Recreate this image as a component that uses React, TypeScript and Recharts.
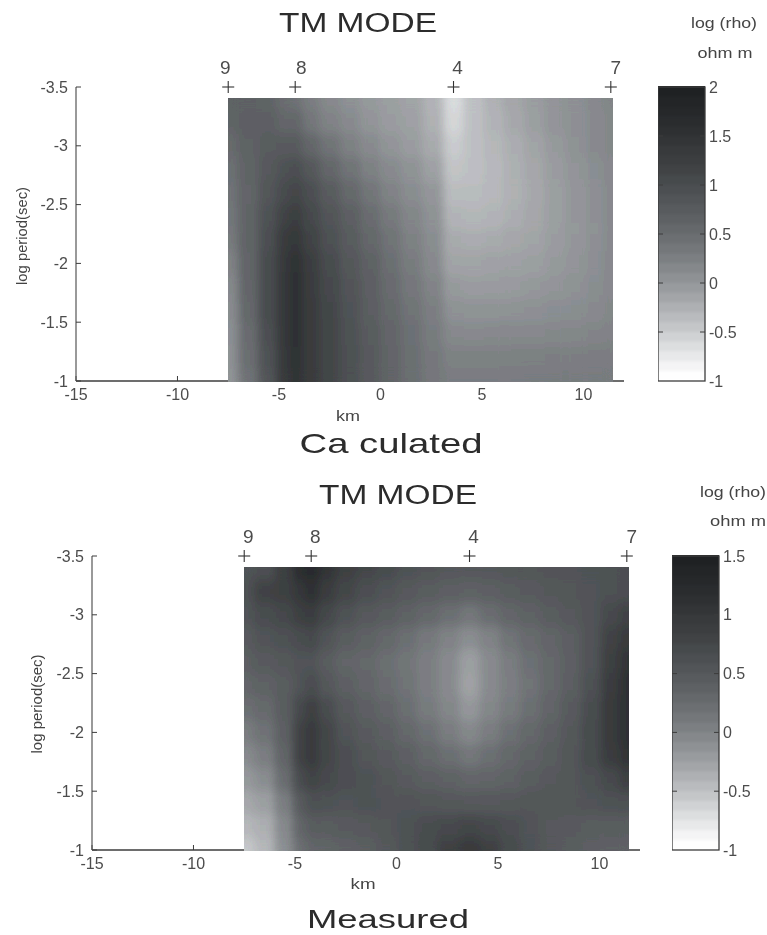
import { ComposedChart, Scatter, XAxis, YAxis } from "recharts";

const kmTicks = [-15, -10, -5, 0, 5, 10];
const periodTicks = [-3.5, -3, -2.5, -2, -1.5, -1];
const calcBarTicks = [2, 1.5, 1, 0.5, 0, -0.5, -1];
const measBarTicks = [1.5, 1, 0.5, 0, -0.5, -1];

const stationKm = [-7.5, -4.2, 3.6, 11.35];
const stationNames = ["9", "8", "4", "7"];

const gridKm = [-7.5, -6.5, -5.5, -4.7, -4.2, -3.5, -2.5, -1.5, -0.5, 0.5, 1.5, 2.6, 3.6, 4.6, 5.6, 6.6, 7.6, 8.6, 9.6, 10.6, 11.4];
const gridPeriod = [-3.4, -3.2, -3, -2.8, -2.6, -2.4, -2.2, -2, -1.8, -1.6, -1.4, -1.2, -1];

// log rho
const calculated = [
  [0.62, 0.62, 0.6, 0.45, 0.4, 0.25, 0.12, 0.03, -0.05, -0.1, -0.15, -0.3, -0.65, -0.42, -0.28, -0.17, -0.08, 0, 0.05, 0.12, 0.17],
  [0.6, 0.65, 0.65, 0.55, 0.55, 0.35, 0.2, 0.1, 0, -0.08, -0.12, -0.28, -0.6, -0.42, -0.3, -0.2, -0.1, 0, 0.05, 0.1, 0.15],
  [0.5, 0.62, 0.72, 0.75, 0.75, 0.55, 0.38, 0.22, 0.1, 0, -0.08, -0.22, -0.52, -0.42, -0.33, -0.25, -0.15, -0.05, 0.03, 0.1, 0.15],
  [0.42, 0.6, 0.78, 0.9, 0.95, 0.8, 0.55, 0.38, 0.22, 0.1, 0.02, -0.12, -0.45, -0.42, -0.35, -0.27, -0.18, -0.08, 0, 0.07, 0.13],
  [0.38, 0.58, 0.82, 1, 1.1, 0.95, 0.72, 0.52, 0.36, 0.2, 0.08, -0.02, -0.38, -0.38, -0.34, -0.28, -0.2, -0.1, -0.02, 0.05, 0.12],
  [0.35, 0.6, 0.9, 1.15, 1.25, 1.05, 0.85, 0.65, 0.46, 0.3, 0.16, 0.04, -0.3, -0.32, -0.3, -0.25, -0.18, -0.1, -0.02, 0.05, 0.12],
  [0.3, 0.6, 0.95, 1.3, 1.4, 1.15, 0.92, 0.72, 0.54, 0.38, 0.22, 0.08, -0.22, -0.24, -0.22, -0.18, -0.15, -0.08, -0.02, 0.05, 0.12],
  [0.2, 0.58, 1, 1.35, 1.5, 1.25, 1, 0.8, 0.62, 0.44, 0.28, 0.12, -0.15, -0.15, -0.13, -0.12, -0.1, -0.05, 0, 0.06, 0.13],
  [0.12, 0.56, 1, 1.38, 1.52, 1.28, 1.05, 0.85, 0.65, 0.48, 0.33, 0.18, -0.05, -0.08, -0.07, -0.06, -0.03, 0, 0.03, 0.08, 0.13],
  [0.08, 0.53, 1, 1.38, 1.52, 1.3, 1.08, 0.88, 0.68, 0.52, 0.38, 0.24, 0.03, 0.02, 0.02, 0.03, 0.05, 0.07, 0.08, 0.1, 0.15],
  [0.05, 0.48, 0.95, 1.38, 1.52, 1.3, 1.1, 0.9, 0.72, 0.56, 0.42, 0.28, 0.13, 0.12, 0.13, 0.13, 0.13, 0.14, 0.15, 0.17, 0.2],
  [0.03, 0.45, 0.9, 1.35, 1.5, 1.3, 1.1, 0.92, 0.74, 0.58, 0.44, 0.32, 0.22, 0.22, 0.22, 0.23, 0.23, 0.24, 0.24, 0.25, 0.25],
  [0, 0.4, 0.85, 1.32, 1.48, 1.3, 1.1, 0.92, 0.74, 0.58, 0.44, 0.33, 0.27, 0.27, 0.27, 0.27, 0.28, 0.28, 0.28, 0.28, 0.28],
];

// log rho
const measured = [
  [0.55, 0.6, 0.85, 1.15, 1.25, 1.05, 0.85, 0.75, 0.68, 0.6, 0.55, 0.5, 0.5, 0.5, 0.52, 0.52, 0.55, 0.55, 0.58, 0.6, 0.62],
  [0.6, 0.8, 0.85, 1, 1.1, 0.9, 0.75, 0.62, 0.55, 0.48, 0.42, 0.38, 0.35, 0.38, 0.42, 0.45, 0.5, 0.52, 0.55, 0.6, 0.62],
  [0.55, 0.65, 0.72, 0.85, 0.9, 0.72, 0.58, 0.48, 0.42, 0.35, 0.28, 0.2, 0.12, 0.22, 0.3, 0.35, 0.42, 0.48, 0.55, 0.7, 0.8],
  [0.45, 0.55, 0.6, 0.65, 0.7, 0.55, 0.42, 0.35, 0.28, 0.2, 0.1, 0, -0.1, 0, 0.15, 0.25, 0.32, 0.4, 0.55, 0.8, 0.95],
  [0.4, 0.45, 0.5, 0.55, 0.55, 0.42, 0.32, 0.28, 0.2, 0.13, 0.03, -0.08, -0.25, -0.08, 0.06, 0.18, 0.28, 0.38, 0.55, 0.85, 1.05],
  [0.3, 0.35, 0.42, 0.55, 0.65, 0.5, 0.38, 0.3, 0.22, 0.15, 0.03, -0.08, -0.28, -0.08, 0.03, 0.15, 0.28, 0.4, 0.6, 0.9, 1.1],
  [0.2, 0.26, 0.42, 0.7, 0.85, 0.65, 0.48, 0.38, 0.3, 0.2, 0.08, -0.04, -0.18, -0.04, 0.08, 0.2, 0.32, 0.45, 0.65, 0.95, 1.1],
  [0.06, 0.16, 0.38, 0.8, 0.95, 0.75, 0.55, 0.45, 0.38, 0.28, 0.18, 0.06, -0.05, 0.06, 0.18, 0.28, 0.38, 0.5, 0.68, 0.95, 1.1],
  [-0.08, 0.04, 0.32, 0.8, 0.95, 0.75, 0.62, 0.52, 0.45, 0.38, 0.28, 0.2, 0.12, 0.2, 0.28, 0.35, 0.42, 0.52, 0.68, 0.9, 1.05],
  [-0.2, -0.1, 0.22, 0.65, 0.78, 0.7, 0.62, 0.58, 0.52, 0.45, 0.4, 0.35, 0.3, 0.32, 0.36, 0.42, 0.48, 0.52, 0.6, 0.7, 0.85],
  [-0.33, -0.25, 0.05, 0.45, 0.6, 0.58, 0.55, 0.58, 0.55, 0.55, 0.52, 0.5, 0.48, 0.48, 0.5, 0.52, 0.52, 0.52, 0.55, 0.58, 0.6],
  [-0.45, -0.38, -0.06, 0.3, 0.42, 0.42, 0.45, 0.48, 0.52, 0.58, 0.65, 0.7, 0.75, 0.7, 0.62, 0.55, 0.48, 0.45, 0.42, 0.42, 0.42],
  [-0.58, -0.45, -0.12, 0.2, 0.3, 0.32, 0.35, 0.4, 0.48, 0.58, 0.68, 0.82, 0.95, 0.82, 0.68, 0.56, 0.48, 0.42, 0.38, 0.35, 0.35],
];

// colour bar shades, top to bottom
const barShades = [
  "#1f2123", "#232527", "#26282a", "#2a2c2e", "#2e3032", "#333537", "#383a3c", "#3c3e40", "#414345", "#464a4c",
  "#4c4f52", "#525558", "#585b5e", "#5e6164", "#65686b", "#6c6f72", "#74777a", "#7c7f82", "#85888b", "#8e9194",
  "#989b9e", "#a3a5a8", "#aeb0b3", "#b9bbbe", "#c4c6c8", "#d0d2d4", "#dcdedf", "#e8e9ea", "#f4f4f5", "#fefefe",
];

const FONT = "'Liberation Sans', Arial, sans-serif";
const AXIS = "#3c3c3c";
const TICK_TEXT = { fill: "#4c4c4c", fontSize: 16, fontFamily: FONT };
const PLOT_W = 548;
const PLOT_H = 294;
const PX_KM = PLOT_W / 27;
const PX_LOG = PLOT_H / 2.5;
const BAR_W = 47;
const POSTER_TABLE = Array.from({ length: 44 }, (_, i) => (i / 43).toFixed(3)).join(" ");

function hexChannels(hex: string) {
  return [1, 3, 5].map((i) => parseInt(hex.slice(i, i + 2), 16));
}

// blend between neighbouring bar shades so the cells stay smooth
function shadeOf(v: number, lo: number, hi: number) {
  const pos = Math.max(0, Math.min(barShades.length - 1, ((hi - v) / (hi - lo)) * (barShades.length - 1)));
  const i = Math.floor(pos);
  const a = hexChannels(barShades[i]);
  const b = hexChannels(barShades[Math.min(i + 1, barShades.length - 1)]);
  const t = pos - i;
  return `rgb(${a.map((c, k) => Math.round(c + (b[k] - c) * t)).join(",")})`;
}

function buildCells(grid: number[][], lo: number, hi: number) {
  const out: any[] = [];
  grid.forEach((row, r) => {
    row.forEach((rho, c) => {
      const km = gridKm[c];
      const period = gridPeriod[r];
      out.push({
        km,
        period,
        fill: shadeOf(rho, lo, hi),
        left: c === 0 ? km : (km + gridKm[c - 1]) / 2,
        right: c === gridKm.length - 1 ? km : (km + gridKm[c + 1]) / 2,
        up: r === 0 ? period : (period + gridPeriod[r - 1]) / 2,
        down: r === gridPeriod.length - 1 ? period : (period + gridPeriod[r + 1]) / 2,
      });
    });
  });
  return out;
}

function HeatCell(p: any) {
  const d = p.payload;
  return (
    <rect
      x={p.cx + (d.left - d.km) * PX_KM}
      y={p.cy + (d.up - d.period) * PX_LOG}
      width={(d.right - d.left) * PX_KM + 0.5}
      height={(d.down - d.up) * PX_LOG + 0.5}
      fill={d.fill}
    />
  );
}

function StationMark(p: any) {
  const { cx, cy, payload } = p;
  return (
    <g>
      <line x1={cx - 6} x2={cx + 6} y1={cy} y2={cy} stroke="#333" strokeWidth={1.1} />
      <line x1={cx} x2={cx} y1={cy - 6} y2={cy + 6} stroke="#333" strokeWidth={1.1} />
      <text x={cx + payload.dx} y={cy - 13} textAnchor="middle" fontSize={19} fontFamily={FONT} fill="#4c4c4c">
        {payload.name}
      </text>
    </g>
  );
}

function BandCell(p: any) {
  const h = PLOT_H / barShades.length + 0.5;
  return <rect x={p.cx - BAR_W / 2} y={p.cy - h / 2} width={BAR_W} height={h} fill={p.payload.fill} />;
}

// the frame and the inward ticks go on top of the bands
function BarFrame(p: any) {
  return <rect x={p.cx - BAR_W / 2} y={p.cy - PLOT_H / 2} width={BAR_W} height={PLOT_H} fill="none" stroke={AXIS} strokeWidth={1.3} />;
}

function BarTick(p: any) {
  const half = BAR_W / 2;
  return (
    <g stroke={AXIS}>
      <line x1={p.cx - half} x2={p.cx - half + 5} y1={p.cy} y2={p.cy} />
      <line x1={p.cx + half - 5} x2={p.cx + half} y1={p.cy} y2={p.cy} />
    </g>
  );
}

function MapPanel(props: { left: number; top: number; grid: number[][]; lo: number; hi: number; labelDx: number[] }) {
  const cells = buildCells(props.grid, props.lo, props.hi);
  const stations = stationKm.map((km, i) => ({ km, period: -3.5, name: stationNames[i], dx: props.labelDx[i] }));
  return (
    <div style={{ position: "absolute", left: props.left - 76, top: props.top - 60 }}>
      <ComposedChart width={640} height={60 + PLOT_H + 34} margin={{ top: 60, right: 16, bottom: 0, left: 0 }}>
        <XAxis
          type="number"
          dataKey="km"
          domain={[-15, 12]}
          ticks={kmTicks}
          interval={0}
          height={34}
          tickSize={-5}
          tickMargin={13}
          tick={TICK_TEXT}
          axisLine={{ stroke: AXIS, strokeWidth: 1.6 }}
          tickLine={{ stroke: AXIS }}
        />
        <YAxis
          type="number"
          dataKey="period"
          domain={[-3.5, -1]}
          reversed
          ticks={periodTicks}
          interval={0}
          width={76}
          tickSize={-5}
          tickMargin={13}
          tick={TICK_TEXT}
          axisLine={{ stroke: "#555", strokeWidth: 1.2 }}
          tickLine={{ stroke: AXIS }}
        />
        <Scatter className="heat" data={cells} shape={(p: any) => <HeatCell {...p} />} isAnimationActive={false} />
        <Scatter data={stations} shape={(p: any) => <StationMark {...p} />} isAnimationActive={false} />
      </ComposedChart>
    </div>
  );
}

function ColorBar(props: { left: number; top: number; lo: number; hi: number; ticks: number[] }) {
  const { lo, hi } = props;
  const step = (hi - lo) / barShades.length;
  const bands = barShades.map((fill, i) => ({ pos: 0.5, level: hi - (i + 0.5) * step, fill }));
  const tickMarks = props.ticks.filter((t) => t !== lo && t !== hi).map((level) => ({ pos: 0.5, level }));
  return (
    <div style={{ position: "absolute", left: props.left, top: props.top - 12 }}>
      <ComposedChart width={96} height={PLOT_H + 24} margin={{ top: 12, right: 0, bottom: 12, left: 0 }}>
        <XAxis type="number" dataKey="pos" hide domain={[0, 1]} />
        <YAxis orientation="right" dataKey="level" type="number" domain={[lo, hi]} ticks={props.ticks} interval={0} width={49} tickSize={-5} tickMargin={9} tick={TICK_TEXT} axisLine={false} tickLine={false} />
        <Scatter className="bar" data={bands} shape={(p: any) => <BandCell {...p} />} isAnimationActive={false} />
        <Scatter data={tickMarks} shape={(p: any) => <BarTick {...p} />} isAnimationActive={false} />
        <Scatter data={[{ pos: 0.5, level: (lo + hi) / 2 }]} shape={(p: any) => <BarFrame {...p} />} isAnimationActive={false} />
      </ComposedChart>
    </div>
  );
}

function Caption(p: { x: number; y: number; w: number; size: number; children: string; rotate?: boolean; fill?: string }) {
  return (
    <text
      x={p.rotate ? 0 : p.x}
      y={p.rotate ? 0 : p.y}
      transform={p.rotate ? `translate(${p.x} ${p.y}) rotate(-90)` : undefined}
      textAnchor="middle"
      textLength={p.w}
      lengthAdjust="spacingAndGlyphs"
      fontSize={p.size}
      fontFamily={FONT}
      fill={p.fill ?? "#2c2c2c"}
    >
      {p.children}
    </text>
  );
}

export default function App() {
  return (
    <div style={{ position: "absolute", left: 0, top: 0, width: 767, height: 935, background: "#fff", overflow: "hidden", filter: "blur(0.35px)" }}>
      <style>{`.heat { filter: url(#heatSmooth); } .bar { filter: url(#barSoft); }`}</style>

      <MapPanel left={76} top={87} grid={calculated} lo={-1} hi={2} labelDx={[-3, 6, 4, 5]} />
      <ColorBar left={658} top={87} lo={-1} hi={2} ticks={calcBarTicks} />
      <MapPanel left={91.5} top={556} grid={measured} lo={-1} hi={1.5} labelDx={[4, 4, 4, 5]} />
      <ColorBar left={672} top={556} lo={-1} hi={1.5} ticks={measBarTicks} />

      <svg width={767} height={935} style={{ position: "absolute", left: 0, top: 0, pointerEvents: "none" }}>
        <defs>
          <filter id="heatSmooth" x="0" y="0" width="1" height="1" colorInterpolationFilters="sRGB">
            <feGaussianBlur stdDeviation="4.5 6" />
            <feComponentTransfer>
              <feFuncR type="discrete" tableValues={POSTER_TABLE} />
              <feFuncG type="discrete" tableValues={POSTER_TABLE} />
              <feFuncB type="discrete" tableValues={POSTER_TABLE} />
              <feFuncA type="linear" slope="60" />
            </feComponentTransfer>
            <feGaussianBlur stdDeviation="0.6" />
          </filter>
          <filter id="barSoft" x="0" y="0" width="1" height="1" colorInterpolationFilters="sRGB">
            <feGaussianBlur stdDeviation="0 1.6" />
            <feComponentTransfer>
              <feFuncA type="linear" slope="60" />
            </feComponentTransfer>
          </filter>
        </defs>
        <Caption x={358} y={32} w={158} size={27}>TM MODE</Caption>
        <Caption x={724} y={28} w={66} size={15} fill="#444">log (rho)</Caption>
        <Caption x={725} y={58} w={55} size={15} fill="#444">ohm m</Caption>
        <Caption x={348} y={421} w={24} size={15} fill="#444">km</Caption>
        <Caption x={27} y={236} w={98} size={15} rotate fill="#444">log period(sec)</Caption>
        <Caption x={391} y={453} w={183} size={28}>Ca culated</Caption>

        <Caption x={398} y={504} w={158} size={27}>TM MODE</Caption>
        <Caption x={733} y={497} w={66} size={15} fill="#444">log (rho)</Caption>
        <Caption x={738} y={526} w={56} size={15} fill="#444">ohm m</Caption>
        <Caption x={363} y={889} w={25} size={15} fill="#444">km</Caption>
        <Caption x={42} y={704} w={99} size={15} rotate fill="#444">log period(sec)</Caption>
        <Caption x={388} y={928} w={162} size={26}>Measured</Caption>
      </svg>
    </div>
  );
}
